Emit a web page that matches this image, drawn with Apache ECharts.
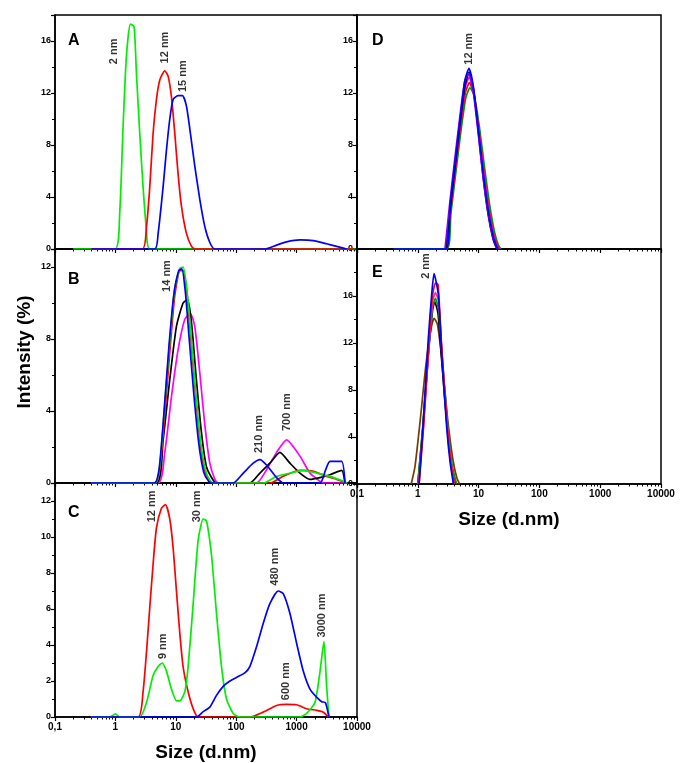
<!DOCTYPE html>
<html><head><meta charset="utf-8">
<script src="https://cdn.jsdelivr.net/npm/echarts@6/dist/echarts.min.js"></script>
<style>html,body{margin:0;padding:0;background:#fff}#c{width:680px;height:763px}</style>
</head><body><div id="c"></div>
<script>
// ---------- tick labels ----------
const xTickLabels = ['0,1', '1', '10', '100', '1000', '10000'];
const panelNames = ['A', 'B', 'C', 'D', 'E'];
const yMaxes = [18, 13, 13, 18, 20];
const yIntervals = [4, 4, 2, 4, 4];

// ---------- Panel A ----------
const aGreen = [[0.2,0],[0.99,0],[1.18,2.8],[1.34,9.4],[1.52,14.8],[1.77,17.3],[2.04,17.1],[2.23,13.5],[2.53,8.9],[2.87,4.8],[3.26,1.5],[3.71,0],[9500,0]];
const aRed = [[0.4,0],[2.8,0],[3.27,1.7],[3.71,4.8],[4.21,8.9],[4.78,11.5],[5.43,13.0],[6.57,13.7],[7.46,13.3],[8.48,11.7],[9.62,8.9],[10.9,5.8],[12.4,3.3],[15.0,1.2],[18.2,0.2],[20.6,0],[9000,0]];
const aBlue = [[0.4,0],[4.49,0],[5.1,1.2],[6.17,4.8],[7.0,7.6],[7.95,10.0],[9.03,11.5],[10.9,11.8],[12.9,11.8],[15.0,11.0],[17.1,9.2],[20.6,6.4],[25.0,3.8],[30.3,1.7],[36.6,0.5],[44.3,0],[299,0],[466,0.3],[683,0.55],[1135,0.7],[1888,0.65],[3141,0.4],[4603,0.2],[6745,0]];
const annoA = [[0.95,15.2,'2 nm'],[6.62,15.5,'12 nm'],[13.2,13.3,'15 nm']];

// ---------- Panel B ----------
const bMagenta = [[0.4,0],[5.1,0],[6.57,1.7],[8.48,4.8],[10.9,7.4],[14.1,9.1],[17.5,9.4],[20.6,8.7],[25.0,6.1],[30.3,3.2],[36.6,1.1],[44.3,0.2],[50.3,0],[217,0],[318,0.74],[466,1.7],[683,2.4],[1135,1.5],[1663,0.55],[2437,0.1],[2766,0],[7000,0]];
const bBlack = [[0.4,0],[4.78,0],[6.17,2.4],[7.95,5.75],[10.25,8.7],[13.2,10.0],[15.6,10.2],[18.2,8.9],[21.9,5.75],[26.6,2.8],[32.2,0.9],[41.6,0.15],[47.2,0],[168,0],[247,0.55],[361,1.1],[530,1.7],[776,1.1],[1135,0.55],[1663,0.2],[2437,0.3],[3567,0.46],[5566,0.7],[6325,0]];
const bRed = [[0.4,0],[4.5,0],[5.4,0.7],[6.6,3.9],[8.0,7.4],[9.6,10.4],[11.7,11.8],[13.2,11.8],[15.0,10.8],[17.1,8.7],[20.6,5.4],[25,2.4],[30,0.7],[37,0.1],[42,0],[361,0],[601,0.37],[1135,0.7],[1888,0.65],[3141,0.37],[4603,0.2],[6745,0]];
const bGreen = [[0.4,0],[4.5,0],[5.4,0.9],[6.5,4.2],[7.9,7.8],[9.5,10.7],[11.6,11.9],[13.2,12.0],[15.1,10.9],[17.3,8.8],[20.8,5.5],[25.3,2.5],[30.6,0.8],[37,0.1],[42,0],[280,0],[466,0.37],[776,0.55],[1289,0.7],[2144,0.55],[3567,0.37],[5935,0.1],[6745,0]];
const bBlue = [[0.4,0],[4.4,0],[5.3,0.8],[6.4,4.0],[7.7,7.6],[9.3,10.5],[11.2,11.8],[12.6,11.9],[14.4,10.6],[16.4,8.3],[19.8,5.0],[24,2.2],[29,0.6],[35,0.1],[40,0],[89,0],[131,0.55],[191,1.1],[247,1.3],[318,1.0],[466,0.3],[601,0],[2437,0],[3000,0.7],[3567,1.2],[5566,1.2],[6325,0]];
const annoB = [[7.15,11.5,'14 nm'],[238,2.72,'210 nm'],[693,3.94,'700 nm']];

// ---------- Panel C ----------
const cRed = [[0.4,0],[2.38,0],[2.87,1.4],[3.27,3.6],[3.71,6.1],[4.21,8.5],[4.78,10.5],[5.78,11.6],[6.74,11.8],[7.95,11.0],[9.03,9.4],[10.25,7.0],[11.65,4.65],[13.2,2.8],[16.0,1.4],[19.4,0.46],[23.4,0],[168,0],[280,0.27],[466,0.64],[683,0.7],[1000,0.68],[1466,0.46],[2144,0.37],[2766,0.27],[3350,0]];
const cGreen = [[0.4,0],[0.805,0],[1.0,0.17],[1.18,0],[2.53,0],[3.27,0.8],[4.21,2.3],[5.1,2.8],[5.94,3.0],[7.0,2.55],[8.48,1.55],[10.25,0.9],[11.65,0.9],[14.1,1.4],[16.0,2.8],[19.4,6.3],[23.4,9.8],[28.4,11.0],[32.2,10.9],[39.0,9.0],[47.2,5.75],[57.1,2.8],[69.1,1.0],[89.2,0.2],[115,0],[1135,0],[1466,0.2],[2014,0.8],[2437,2.5],[2838,4.2],[3141,1.7],[3433,0]];
const cBlue = [[0.4,0],[22.0,0],[28.4,0.3],[36.6,0.55],[47.2,1.2],[60.9,1.7],[78.6,2.0],[101,2.2],[139,2.45],[168,2.8],[217,3.9],[280,5.2],[361,6.3],[497,7.0],[601,6.85],[776,5.75],[1000,4.1],[1289,2.55],[1663,1.55],[2144,1.1],[2600,0.85],[3000,0.8],[3433,0]];
const annoC = [[4.04,11.7,'12 nm'],[22.4,11.7,'30 nm'],[6.14,3.93,'9 nm'],[439,8.35,'480 nm'],[668,1.99,'600 nm'],[2634,5.64,'3000 nm']];

// ---------- Panel D ----------
const dGreen = [[0.4,0],[3.0,0],[3.5,2.7],[4.2,5.8],[5.1,9.0],[6.15,11.6],[7.2,12.4],[8.5,11.8],[10.3,9.4],[12.5,6.3],[15.2,3.4],[18.3,1.3],[21.0,0.35],[23.0,0]];
const dRed = [[2.95,0],[3.45,2.9],[4.15,6.1],[5.0,9.3],[6.05,12.0],[7.05,12.8],[8.35,11.9],[10.1,9.2],[12.2,6.0],[14.8,3.1],[17.8,1.1],[20.3,0.3],[22.0,0]];
const dMagenta = [[2.9,0],[3.42,3.0],[4.12,6.3],[4.98,9.6],[6.02,12.4],[7.0,13.2],[8.3,12.1],[10.0,9.1],[12.1,5.8],[14.6,2.9],[17.6,1.0],[20.0,0.2],[21.2,0]];
const dBlack = [[2.9,0],[3.42,3.1],[4.12,6.4],[4.98,9.7],[6.0,12.6],[7.0,13.6],[8.25,12.3],[9.9,9.0],[11.9,5.5],[14.4,2.6],[17.2,0.8],[19.3,0.15],[20.2,0]];
const dPurple = [[2.8,0],[3.35,3.5],[4.05,6.9],[4.9,10.1],[5.9,12.9],[6.85,13.5],[8.1,12.2],[9.8,9.0],[11.8,5.6],[14.3,2.8],[17.2,0.9],[19.5,0.2],[20.5,0]];
const dBlue = [[0.4,0],[2.9,0],[3.39,3.3],[4.09,6.6],[4.94,9.9],[5.97,13.0],[6.95,13.9],[8.19,12.5],[9.89,9.2],[11.97,5.8],[14.5,2.9],[17.5,0.95],[19.8,0.2],[20.9,0]];
const annoD = [[6.95,15.4,'12 nm']];

// ---------- Panel E ----------
const eBrown = [[0.78,0],[0.9,1.5],[1.1,5.5],[1.35,10.0],[1.65,13.2],[1.85,14.1],[2.1,13.6],[2.5,10.5],[3.1,5.5],[3.8,2.0],[4.4,0.5],[4.9,0]];
const eBlack = [[1.0,0],[1.22,5.0],[1.48,10.8],[1.75,14.8],[1.9,15.5],[2.15,14.5],[2.5,10.2],[3.05,4.8],[3.6,1.4],[4.2,0]];
const eGreen = [[1.0,0],[1.22,5.2],[1.48,11.0],[1.75,15.0],[1.95,15.8],[2.2,14.8],[2.55,10.5],[3.1,5.0],[3.7,1.5],[4.35,0]];
const eMagenta = [[1.03,0],[1.24,5.0],[1.5,11.2],[1.75,15.5],[1.95,16.3],[2.2,15.5],[2.5,11.0],[3.0,5.5],[3.5,2.0],[4.0,0]];
const eRed = [[1.05,0],[1.25,5.0],[1.5,11.5],[1.72,15.8],[1.95,17.1],[2.15,17.0],[2.45,12.0],[3.0,5.2],[3.45,2.0],[3.95,0]];
const eBlue = [[1.05,0],[1.23,5.3],[1.49,12.4],[1.69,16.1],[1.85,17.9],[2.18,16.1],[2.47,11.0],[2.99,4.8],[3.39,1.9],[3.85,0]];
const annoE = [[1.36,18.55,'2 nm']];

// ---------- colours ----------
const C = {green:'#00ee00', red:'#ff0000', blue:'#0000ff', black:'#000000', magenta:'#ff00ff',
           dgreen:'#009a00', purple:'#8000ff', brown:'#7a3a00', pink:'#ff2d8a'};

const panels = [
  {grid:{left:55, top:15, width:302, height:234}, lines:[[aGreen,C.green],[aRed,C.red],[aBlue,C.blue]], anno:annoA, xl:false},
  {grid:{left:55, top:249, width:302, height:234}, lines:[[bMagenta,C.magenta],[bBlack,C.black],[bRed,C.red],[bGreen,C.green],[bBlue,C.blue]], anno:annoB, xl:false},
  {grid:{left:55, top:483, width:302, height:235}, lines:[[cRed,C.red],[cGreen,C.green],[cBlue,C.blue]], anno:annoC, xl:true},
  {grid:{left:357, top:15, width:304, height:234}, lines:[[dGreen,C.dgreen],[dRed,C.red],[dMagenta,C.magenta],[dBlack,C.black],[dPurple,C.purple],[dBlue,C.blue]], anno:annoD, xl:false},
  {grid:{left:357, top:249, width:304, height:235}, lines:[[eBrown,C.brown],[eBlack,C.black],[eGreen,C.dgreen],[eMagenta,C.pink],[eRed,C.red],[eBlue,C.blue]], anno:annoE, xl:true}
];

const FONT = 'Liberation Sans';
const grids = [], xAxes = [], yAxes = [], series = [];
panels.forEach((p, i) => {
  grids.push(Object.assign({show:true, borderColor:'#000', borderWidth:1.5, backgroundColor:'transparent'}, p.grid));
  xAxes.push({
    type:'log', logBase:10, min:0.1, max:10000, gridIndex:i,
    axisLine:{show:true, onZero:false, lineStyle:{color:'#000', width:1.5}},
    axisTick:{show:true, inside:false, length:4, lineStyle:{color:'#000', width:1.2}},
    minorTick:{show:true, splitNumber:9, length:2.5, lineStyle:{color:'#000', width:1}},
    splitLine:{show:false}, minorSplitLine:{show:false},
    axisLabel:{show:p.xl, color:'#000', fontFamily:FONT, fontWeight:'bold', fontSize:10, margin:5,
      formatter: v => xTickLabels[Math.round(Math.log10(v)) + 1]},
    name: p.xl ? 'Size (d.nm)' : '', nameLocation:'middle', nameGap:26,
    nameTextStyle:{color:'#000', fontFamily:FONT, fontWeight:'bold', fontSize:19}
  });
  yAxes.push({
    type:'value', min:0, max:yMaxes[i], interval:yIntervals[i], gridIndex:i,
    axisLine:{show:true, lineStyle:{color:'#000', width:1.5}},
    axisTick:{show:true, inside:false, length:4, lineStyle:{color:'#000', width:1.2}},
    minorTick:{show:true, splitNumber:2, length:3, lineStyle:{color:'#000', width:1}},
    splitLine:{show:false},
    axisLabel:{color:'#000', fontFamily:FONT, fontWeight:'bold', fontSize:9, margin:4, showMaxLabel:false}
  });
  p.lines.forEach(([d, col]) => {
    series.push({type:'line', xAxisIndex:i, yAxisIndex:i, data:d, showSymbol:false, symbol:'none',
      smooth:0.2, lineStyle:{color:col, width:1.7}, itemStyle:{color:col}, animation:false, silent:true});
  });
  series.push({type:'scatter', xAxisIndex:i, yAxisIndex:i, data:p.anno, symbolSize:1,
    itemStyle:{color:'rgba(0,0,0,0)'}, animation:false, silent:true,
    label:{show:true, position:'inside', rotate:90, formatter: q => q.data[2],
      color:'#000', fontFamily:FONT, fontWeight:'bold', fontSize:11}});
});

const letterPos = [[68,33],[68,272],[68,505],[372,33],[372,265]];
const graphic = panelNames.map((n, i) => ({type:'text', left:letterPos[i][0], top:letterPos[i][1],
  style:{text:n, fill:'#000', font:'bold 16px "Liberation Sans"'}}));
graphic.push({type:'text', x:25, y:352, rotation:Math.PI/2,
  style:{text:'Intensity (%)', fill:'#000', font:'bold 19px "Liberation Sans"', align:'center', verticalAlign:'middle'}});

const chart = echarts.init(document.getElementById('c'), null, {renderer:'canvas'});
chart.setOption({animation:false, backgroundColor:'#fff', grid:grids, xAxis:xAxes, yAxis:yAxes, series:series, graphic:graphic});
</script>
</body></html>
